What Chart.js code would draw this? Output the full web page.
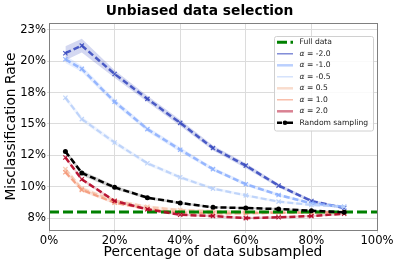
<!DOCTYPE html>
<html>
<head>
<meta charset="utf-8">
<script src="https://cdn.jsdelivr.net/npm/chart.js@4/dist/chart.umd.min.js"></script>
<style>
  html, body { margin: 0; padding: 0; background: #fff; }
</style>
</head>
<body>
<canvas id="chartID" width="399" height="266"></canvas>
<script>
'use strict';

// percentage of data subsampled
const xPct = [5, 10, 20, 30, 40, 50, 60, 70, 80, 90];

// misclassification rate (%) per alpha
const alphaM2 = [20.64, 21.25, 18.99, 17.0, 15.09, 13.08, 11.68, 10.09, 8.86, 8.3];
const alphaM1 = [20.16, 19.39, 16.77, 14.59, 12.95, 11.4, 10.2, 9.34, 8.68, 8.4];
const alphaM05 = [17.09, 15.39, 13.53, 11.87, 10.75, 9.85, 9.31, 8.81, 8.55, 8.4];
const alphaP05 = [11.4, 9.85, 8.9, 8.4, 8.15, 8.05, 8.0, 8.0, 7.95, 7.95];
const alphaP1 = [11.15, 9.75, 8.72, 8.22, 7.96, 7.88, 7.88, 7.92, 7.95, 7.95];
const alphaP2 = [12.33, 10.59, 8.86, 8.2, 7.77, 7.66, 7.5, 7.56, 7.66, 7.85];
const randomS = [12.81, 11.1, 9.95, 9.13, 8.7, 8.36, 8.3, 8.22, 8.09, 7.96];
const fullData = 7.98;

// band half widths (%)
const errM2 = [0.55, 0.55, 0.3, 0.25, 0.25, 0.2, 0.2, 0.15, 0.12, 0.1];
const errM1 = [0.3, 0.25, 0.22, 0.2, 0.2, 0.15, 0.15, 0.12, 0.1, 0.1];
const errM05 = [0.2, 0.2, 0.18, 0.15, 0.15, 0.12, 0.1, 0.1, 0.1, 0.1];
const errP05 = [0.2, 0.18, 0.15, 0.12, 0.12, 0.12, 0.12, 0.12, 0.1, 0.1];
const errP1 = [0.15, 0.15, 0.12, 0.1, 0.1, 0.1, 0.1, 0.1, 0.1, 0.1];
const errP2 = [0.15, 0.12, 0.1, 0.08, 0.08, 0.08, 0.08, 0.08, 0.08, 0.08];
const errRS = [0.15, 0.2, 0.15, 0.12, 0.1, 0.08, 0.08, 0.08, 0.08, 0.08];

const yTicks = [7.5, 10, 12.5, 15, 17.5, 20, 22.5];
const yTickLabels = ['8%', '10%', '12%', '15%', '18%', '20%', '23%'];
const xTicks = [0, 20, 40, 60, 80, 100];

const legendNames = ['Full data', 'α = -2.0', 'α = -1.0', 'α = -0.5', 'α = 0.5', 'α = 1.0', 'α = 2.0', 'Random sampling'];

const series = [
  { vals: alphaM2, err: errM2, rgb: '59,76,192', width: 2.5, order: 8 },
  { vals: alphaM1, err: errM1, rgb: '141,176,254', width: 2.5, order: 7 },
  { vals: alphaM05, err: errM05, rgb: '185,208,249', width: 2.2, order: 6 },
  { vals: alphaP05, err: errP05, rgb: '245,196,172', width: 2.2, order: 5 },
  { vals: alphaP1, err: errP1, rgb: '244,154,123', width: 2.2, order: 4 },
  { vals: alphaP2, err: errP2, rgb: '180,4,38', width: 2.5, order: 2 }
];

function pts(vals, err, sign) {
  let out = [];
  for (let i = 0; i < xPct.length; i++) {
    out.push({ x: xPct[i], y: vals[i] + sign * err[i] });
  }
  return out;
}

let datasets = [];

// bands first
for (let i = 0; i < series.length; i++) {
  let s = series[i];
  datasets.push({ data: pts(s.vals, s.err, 1), borderWidth: 0, pointRadius: 0, fill: false, order: 20 });
  datasets.push({ data: pts(s.vals, s.err, -1), borderWidth: 0, pointRadius: 0, fill: '-1',
    backgroundColor: 'rgba(' + s.rgb + ',0.22)', order: 20 });
}
datasets.push({ data: pts(randomS, errRS, 1), borderWidth: 0, pointRadius: 0, fill: false, order: 20 });
datasets.push({ data: pts(randomS, errRS, -1), borderWidth: 0, pointRadius: 0, fill: '-1',
  backgroundColor: 'rgba(0,0,0,0.18)', order: 20 });

// lines
for (let i = 0; i < series.length; i++) {
  let s = series[i];
  datasets.push({
    data: pts(s.vals, s.err, 0),
    borderColor: 'rgba(' + s.rgb + ',0.9)',
    borderWidth: s.width,
    borderDash: [6, 3],
    pointStyle: 'crossRot',
    pointRadius: 3,
    pointBorderWidth: 1.2,
    pointBorderColor: 'rgba(' + s.rgb + ',0.9)',
    fill: false,
    order: s.order
  });
}
datasets.push({
  data: [{ x: 0, y: fullData }, { x: 100, y: fullData }],
  borderColor: '#008000',
  borderWidth: 3,
  borderDash: [10, 4],
  pointRadius: 0,
  fill: false,
  order: 3
});
datasets.push({
  data: pts(randomS, errRS, 0),
  borderColor: '#000',
  borderWidth: 2.5,
  borderDash: [6, 3],
  pointStyle: 'circle',
  pointRadius: 2.5,
  pointBorderWidth: 0,
  pointBackgroundColor: '#000',
  fill: false,
  order: 1
});

const legendStyles = [
  { color: '#008000', width: 3, kind: 'full' },
  { color: 'rgba(59,76,192,0.75)', width: 1.3 },
  { color: 'rgba(141,176,254,0.6)', width: 2.5 },
  { color: 'rgba(185,208,249,0.7)', width: 1.3 },
  { color: 'rgba(245,196,172,0.6)', width: 2.5 },
  { color: 'rgba(244,154,123,0.75)', width: 1.3 },
  { color: 'rgba(180,4,38,0.5)', width: 2.5 },
  { color: '#000', width: 2.5, kind: 'random' }
];

const extras = {
  id: 'extras',
  afterDraw(chart) {
    const ctx = chart.ctx;
    const a = chart.chartArea;
    ctx.save();
    // frame
    ctx.strokeStyle = '#808080';
    ctx.lineWidth = 1;
    ctx.strokeRect(Math.round(a.left) + 0.5, Math.round(a.top) + 0.5,
      Math.round(a.right - a.left), Math.round(a.bottom - a.top));
    // title
    ctx.fillStyle = '#000';
    ctx.font = 'bold 13.8px "DejaVu Sans"';
    ctx.textAlign = 'center';
    ctx.textBaseline = 'middle';
    ctx.fillText('Unbiased data selection', 199.5, 11);
    // legend
    const bx = 274.5, by = 36.5, bw = 99, bh = 94.5;
    ctx.fillStyle = 'rgba(255,255,255,0.85)';
    ctx.strokeStyle = '#d0d0d0';
    ctx.lineWidth = 1;
    ctx.beginPath();
    ctx.roundRect(bx, by, bw, bh, 2);
    ctx.fill();
    ctx.stroke();
    ctx.font = '7.6px "DejaVu Sans"';
    ctx.textAlign = 'left';
    for (let i = 0; i < legendNames.length; i++) {
      const y = 42.3 + i * 11.5;
      const st = legendStyles[i];
      ctx.strokeStyle = st.color;
      ctx.lineWidth = st.width;
      ctx.beginPath();
      if (st.kind === 'full') {
        ctx.moveTo(277, y); ctx.lineTo(287, y);
        ctx.moveTo(290.5, y); ctx.lineTo(293, y);
      } else if (st.kind === 'random') {
        ctx.moveTo(277, y); ctx.lineTo(282, y);
        ctx.moveTo(287, y); ctx.lineTo(293, y);
      } else {
        ctx.moveTo(277, y); ctx.lineTo(293, y);
      }
      ctx.stroke();
      if (st.kind === 'random') {
        ctx.fillStyle = '#000';
        ctx.beginPath();
        ctx.arc(285, y, 2.3, 0, Math.PI * 2);
        ctx.fill();
      }
      ctx.fillStyle = '#1a1a1a';
      const name = legendNames[i];
      if (name.startsWith('α')) {
        ctx.font = 'italic 7.6px "DejaVu Sans"';
        ctx.fillText('α', 299.5, y);
        const w = ctx.measureText('α').width;
        ctx.font = '7.6px "DejaVu Sans"';
        ctx.fillText(name.slice(1), 299.5 + w, y);
      } else {
        ctx.fillText(name, 299.5, y);
      }
    }
    ctx.restore();
  }
};

Chart.defaults.font.family = '"DejaVu Sans"';
Chart.defaults.color = '#000';

const chart = new Chart(document.getElementById('chartID'), {
  type: 'line',
  data: { datasets: datasets },
  options: {
    responsive: false,
    animation: false,
    layout: { padding: { left: 0, right: 22, top: 23, bottom: 0 } },
    plugins: { legend: { display: false }, tooltip: { enabled: false } },
    elements: { line: { tension: 0 } },
    scales: {
      x: {
        type: 'linear',
        min: 0,
        max: 100,
        afterBuildTicks: (scale) => { scale.ticks = xTicks.map(v => ({ value: v })); },
        afterFit: (scale) => { scale.height = 36; },
        ticks: { font: { size: 11.6 }, padding: 1, maxRotation: 0, callback: (v) => v + '%' },
        grid: { color: '#dcdcdc', lineWidth: 1, tickLength: 3 },
        border: { display: false },
        title: { display: true, text: 'Percentage of data subsampled', font: { size: 13.8 }, padding: { top: 0, bottom: 5.5 } }
      },
      y: {
        type: 'linear',
        min: 6.55,
        max: 23.05,
        afterBuildTicks: (scale) => { scale.ticks = yTicks.map(v => ({ value: v })); },
        afterFit: (scale) => { scale.width = 49; },
        ticks: { font: { size: 11.6 }, padding: 1, autoSkip: false,
          callback: (v, i) => yTickLabels[i] },
        grid: { color: '#dcdcdc', lineWidth: 1, tickLength: 2 },
        border: { display: false },
        title: { display: true, text: 'Misclassification Rate', font: { size: 13.8 }, padding: { top: 3.5, bottom: 0 } }
      }
    }
  },
  plugins: [extras]
});
</script>
</body>
</html>
